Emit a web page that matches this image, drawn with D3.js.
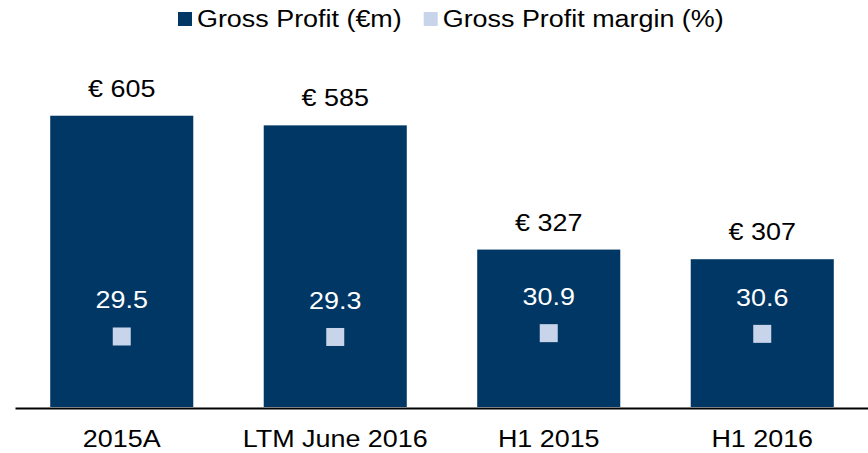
<!DOCTYPE html>
<html>
<head>
<meta charset="utf-8">
<title>Gross Profit</title>
<script src="https://cdn.jsdelivr.net/npm/d3@7"></script>
<style>
  body { margin: 0; background: #fff; }
  svg text { font-family: "Liberation Sans", Arial, sans-serif; }
</style>
</head>
<body>
<div id="chart"></div>
<script>
// data
var categories = ["2015A", "LTM June 2016", "H1 2015", "H1 2016"];
var grossProfit = [605, 585, 327, 307];
var grossMargin = [29.5, 29.3, 30.9, 30.6];
var seriesNames = ["Gross Profit (\u20acm)", "Gross Profit margin (%)"];

var width = 868, height = 453;
var navy = "#003764", light = "#c8d4ea";
var stretch = 1.17; // reference text is a bit wide
var fontSize = 23;

var svg = d3.select("#chart").append("svg")
  .attr("width", width).attr("height", height);

var x = d3.scaleBand().domain(categories).range([15, 869])
  .paddingInner(0.33).paddingOuter(0.165);
var y = d3.scaleLinear().domain([0, 700]).range([407, 70]);
var y2 = d3.scaleLinear().domain([0, 141]).range([407, 70]);

// puts text at x,y, stretched horizontally
function label(parent, tx, ty, str, color, anchor) {
  return parent.append("text")
    .attr("transform", "translate(" + tx + "," + ty + ") scale(" + stretch + ",1)")
    .attr("text-anchor", anchor || "middle")
    .attr("font-size", fontSize)
    .attr("fill", color)
    .text(str);
}

var rows = categories.map(function(c, i) {
  return {cat: c, gp: grossProfit[i], m: grossMargin[i]};
});

svg.selectAll("rect.bar").data(rows).enter().append("rect")
  .attr("class", "bar")
  .attr("x", function(d) { return x(d.cat); })
  .attr("width", x.bandwidth())
  .attr("y", function(d) { return y(d.gp); })
  .attr("height", function(d) { return y(0) - y(d.gp); })
  .attr("fill", navy);

rows.forEach(function(d) {
  var cx = x(d.cat) + x.bandwidth() / 2;
  label(svg, cx, y(d.gp) - 19, "\u20ac " + d.gp, "#000");
  label(svg, cx, y2(d.m) - 28, d.m.toFixed(1), "#fff");
});

var ms = 18;
svg.selectAll("rect.marker").data(rows).enter().append("rect")
  .attr("class", "marker")
  .attr("x", function(d) { return x(d.cat) + x.bandwidth() / 2 - ms / 2; })
  .attr("y", function(d) { return y2(d.m) - ms / 2; })
  .attr("width", ms).attr("height", ms)
  .attr("fill", light);

// category axis
var axis = svg.append("g")
  .attr("transform", "translate(0,408)")
  .call(d3.axisBottom(x).tickSize(0).tickSizeOuter(0));
axis.select(".domain").attr("stroke", "#000").attr("stroke-width", 2);
axis.selectAll("text")
  .attr("y", 39).attr("dy", null)
  .attr("transform", "scale(" + stretch + ",1)")
  .attr("font-size", fontSize)
  .attr("font-family", "Liberation Sans, Arial, sans-serif")
  .attr("fill", "#000");

// legend
var legend = svg.append("g");
var lx = 178;
[navy, light].forEach(function(col, i) {
  legend.append("rect").attr("x", lx).attr("y", 12).attr("width", 14).attr("height", 14).attr("fill", col);
  var t = label(legend, lx + 19, 27, seriesNames[i], "#000", "start");
  lx += 19 + t.node().getComputedTextLength() * stretch + 22;
});
</script>
</body>
</html>
